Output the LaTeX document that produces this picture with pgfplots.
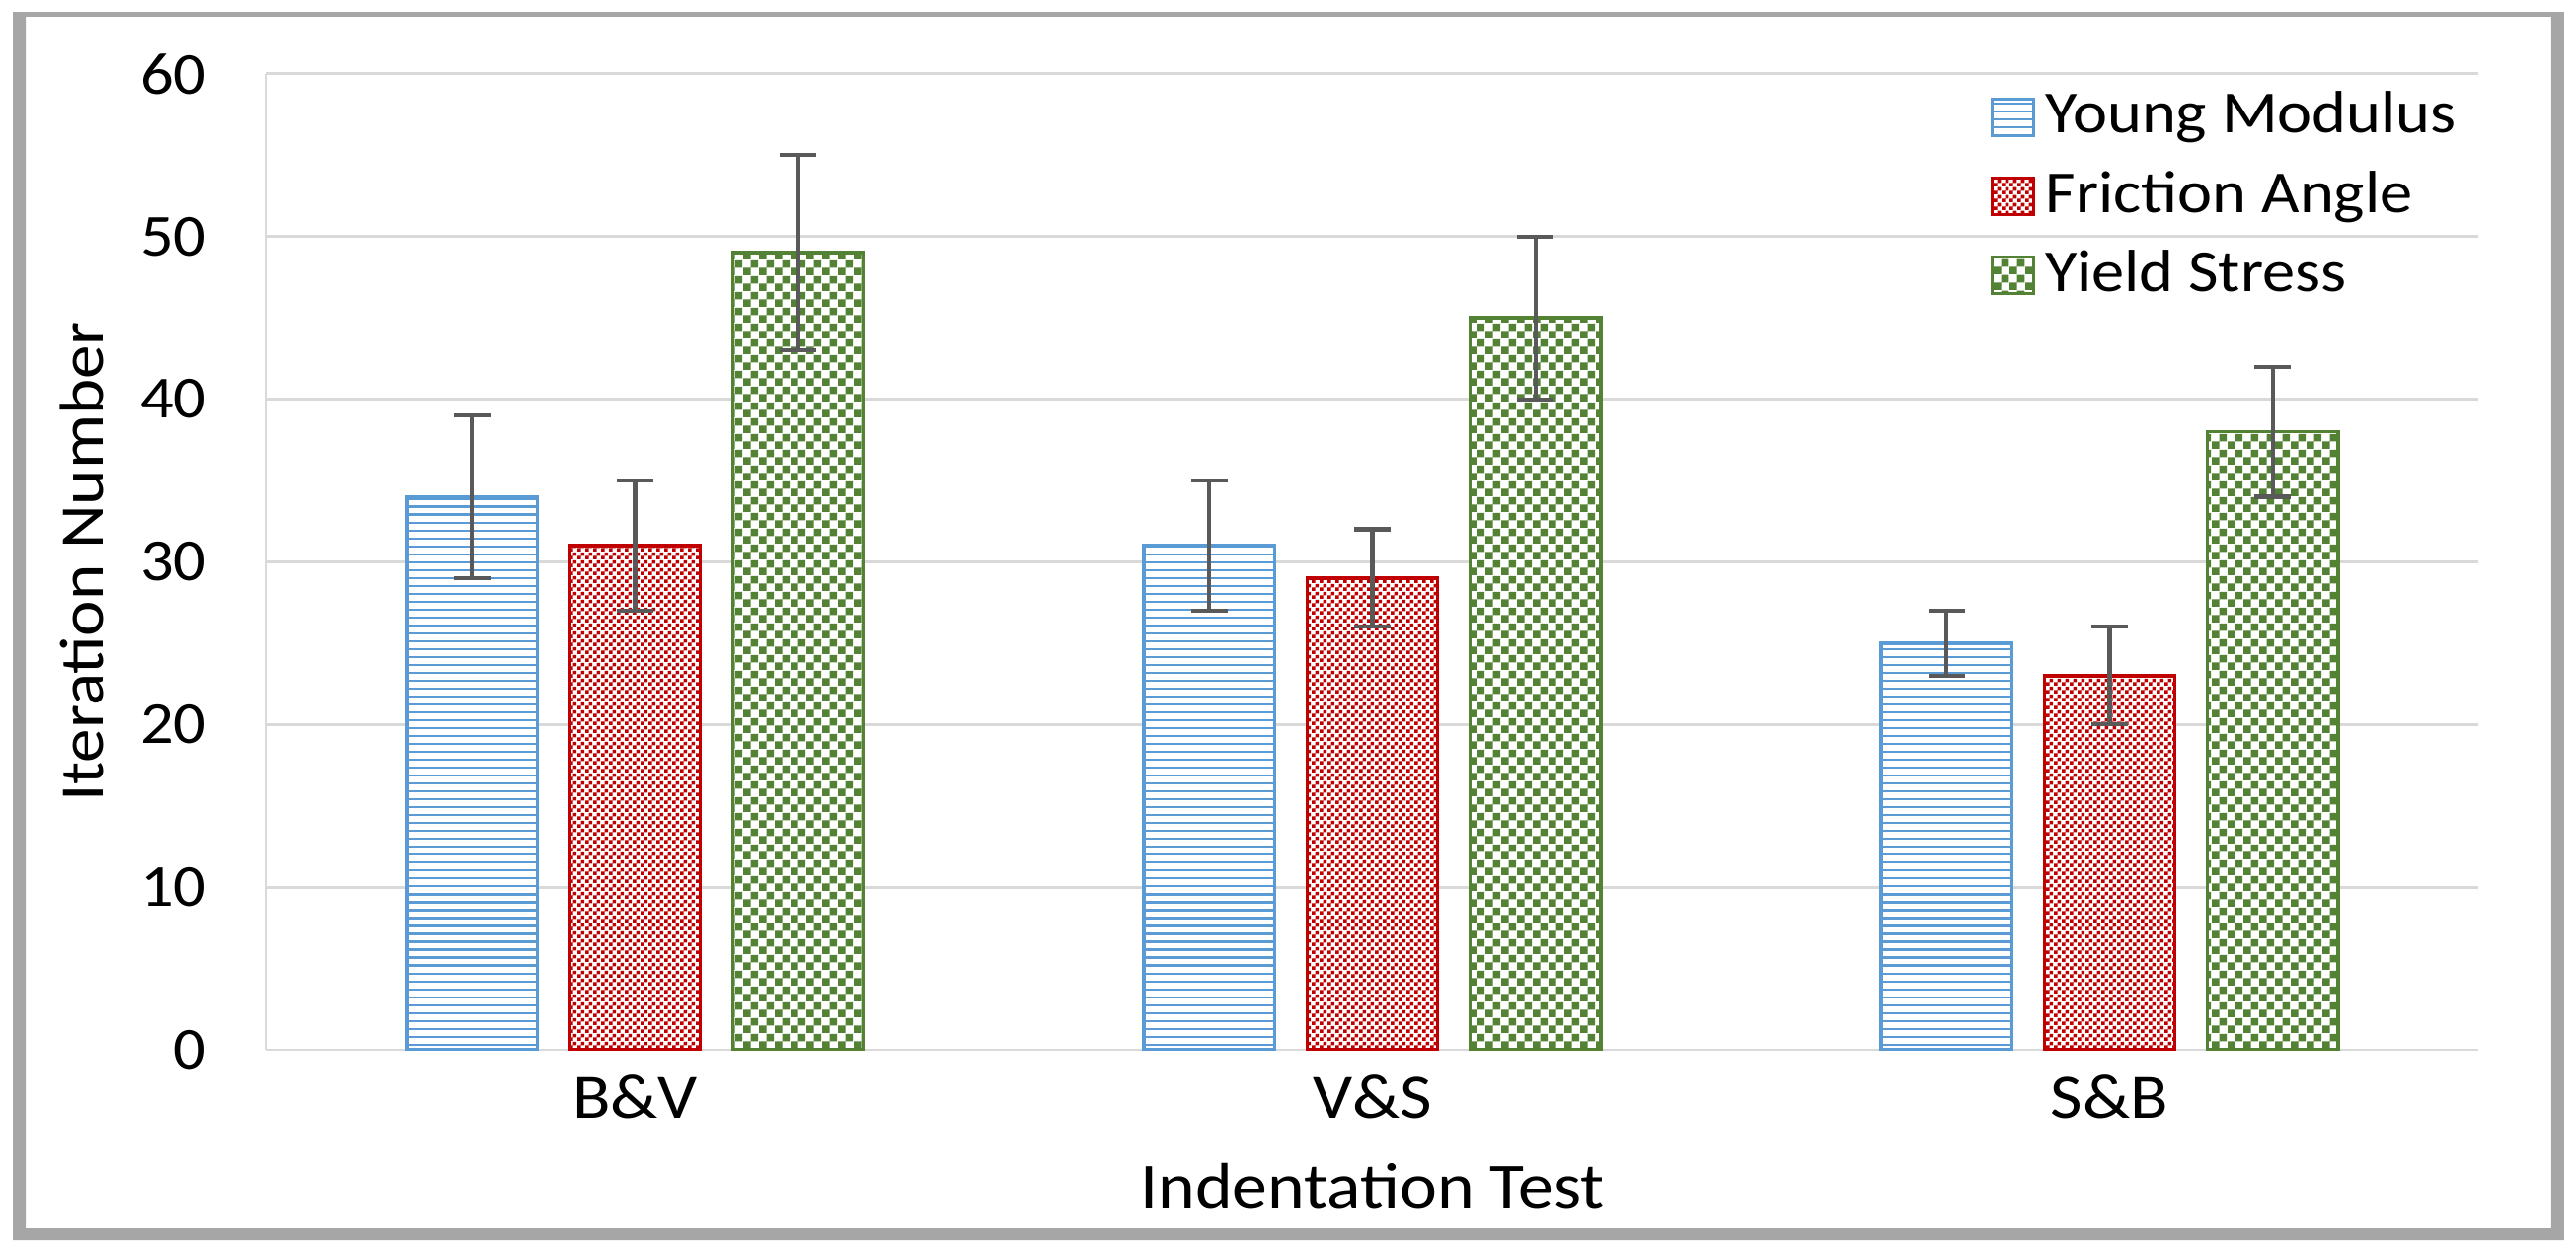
\documentclass[border=0pt]{standalone}
\usepackage{fontspec}
\setmainfont{Carlito}[FakeStretch=1.1]
\usepackage{pgfplots}
\pgfplotsset{compat=1.18}
\usetikzlibrary{patterns}

\definecolor{ymblue}{HTML}{5B9BD5}
\definecolor{fared}{HTML}{C00000}
\definecolor{ysgreen}{HTML}{548235}
\definecolor{gridgray}{HTML}{D9D9D9}
\definecolor{errgray}{HTML}{595959}
\definecolor{framegray}{HTML}{A6A6A6}

% fine horizontal lines (Young Modulus)
\pgfdeclarepatternformonly{hlinesfine}{\pgfpoint{-0.1pt}{-0.1pt}}{\pgfpoint{2.1pt}{1.76pt}}{\pgfpoint{2pt}{1.66pt}}{%
  \pgfsetlinewidth{0.45pt}%
  \pgfpathmoveto{\pgfpoint{-0.1pt}{0.83pt}}%
  \pgfpathlineto{\pgfpoint{2.1pt}{0.83pt}}%
  \pgfusepathqstroke}
% small checkerboard (Friction Angle)
\pgfdeclarepatternformonly{checksmall}{\pgfpointorigin}{\pgfpoint{1.66pt}{1.66pt}}{\pgfpoint{1.66pt}{1.66pt}}{%
  \pgfpathrectangle{\pgfpointorigin}{\pgfpoint{0.83pt}{0.83pt}}%
  \pgfpathrectangle{\pgfpoint{0.83pt}{0.83pt}}{\pgfpoint{0.83pt}{0.83pt}}%
  \pgfusepathqfill}
% large checkerboard (Yield Stress)
\pgfdeclarepatternformonly{checklarge}{\pgfpointorigin}{\pgfpoint{3.32pt}{3.32pt}}{\pgfpoint{3.32pt}{3.32pt}}{%
  \pgfpathrectangle{\pgfpointorigin}{\pgfpoint{1.66pt}{1.66pt}}%
  \pgfpathrectangle{\pgfpoint{1.66pt}{1.66pt}}{\pgfpoint{1.66pt}{1.66pt}}%
  \pgfusepathqfill}

\pgfplotsset{
  errstyle/.style={
    error bars/.cd, y dir=both, y explicit,
    error bar style={errgray, line width=0.85pt},
    error mark options={rotate=90, errgray, mark size=3.8pt, line width=0.85pt}},
}

\begin{document}
\fontsize{13}{15}\selectfont
\begin{tikzpicture}
\begin{axis}[
    at={(0,0)}, anchor=south west,
    scale only axis, width=464pt, height=204.8pt,
    ybar, bar width=0.177,
    xmin=-0.5, xmax=2.5, ymin=0, ymax=60,
    xtick={0,1,2}, xticklabels={B\&V, V\&S, S\&B},
    ytick={0,10,...,60},
    major tick length=0,
    axis x line*=bottom, axis y line*=left,
    axis line style={gridgray, line width=0.6pt},
    ymajorgrids, grid style={gridgray, line width=0.6pt},
    /pgf/number format/assume math mode=true,
    yticklabel style={xshift=-8pt, font=\fontsize{12.5}{14}\selectfont},
    xticklabel style={yshift=-0.8pt, font=\fontsize{13.3}{15}\selectfont},
    xlabel={Indentation Test},
    ylabel={Iteration Number},
    every axis x label/.style={at={(axis description cs:0.5,-0.1396)}, anchor=center,
      font=\fontsize{13.5}{15}\selectfont},
    every axis y label/.style={at={(axis description cs:-0.0834,0.5)}, anchor=center, rotate=90,
      font=\fontsize{13}{15}\selectfont},
    legend style={at={(axis description cs:0.779,0.99)}, anchor=north west,
      draw=none, fill=none, inner sep=0pt, row sep=3pt,
      nodes={inner sep=1.5pt}, font=\fontsize{12.5}{14}\selectfont,
      /tikz/every odd column/.append style={column sep=0.8pt}},
    legend cell align=left,
    every axis plot post/.append style={
      legend image code/.code={\draw[##1, line width=0.6pt] (0pt,-3.85pt) rectangle (8.7pt,3.85pt);}},
]
\addplot[draw=ymblue, line width=0.75pt, fill=white,
  postaction={pattern=hlinesfine, pattern color=ymblue},
  bar shift=-0.221, errstyle]
  coordinates {(0,34) +- (0,5) (1,31) +- (0,4) (2,25) +- (0,2)};
\addlegendentry{Young Modulus}
\addplot[draw=fared, line width=0.75pt, fill=white,
  postaction={pattern=checksmall, pattern color=fared},
  bar shift=0, errstyle]
  coordinates {(0,31) +- (0,4) (1,29) +- (0,3) (2,23) +- (0,3)};
\addlegendentry{Friction Angle}
\addplot[draw=ysgreen, line width=0.75pt, fill=white,
  postaction={pattern=checklarge, pattern color=ysgreen},
  bar shift=0.221, errstyle]
  coordinates {(0,49) +- (0,6) (1,45) +- (0,5) (2,38) +- (0,4)};
\addlegendentry{Yield Stress}
\end{axis}
\fill[framegray, even odd rule]
  (-53.2pt,-40pt) rectangle (482pt,217.8pt)
  (-50.5pt,-37.5pt) rectangle (479.3pt,216.8pt);
\pgfresetboundingbox
\useasboundingbox (-55.9pt,-42.9pt) rectangle (484.5pt,220.3pt);
\end{tikzpicture}
\end{document}
